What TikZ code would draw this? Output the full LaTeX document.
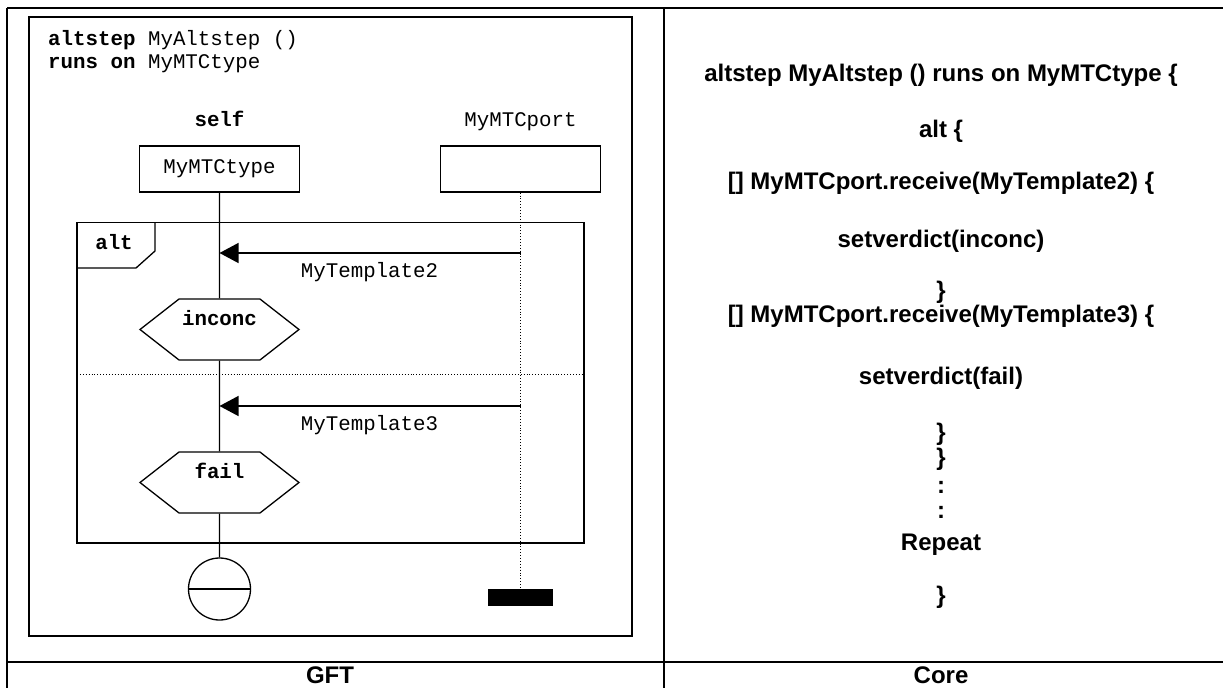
\documentclass[tikz,border=0pt]{standalone}
\usepackage{fontspec}
\setmainfont{Liberation Sans}
\setmonofont{Liberation Mono}
\usetikzlibrary{arrows.meta,shapes.symbols}

\newcommand{\gftfont}{\fontsize{20.8}{24}\selectfont\ttfamily}
\newcommand{\corefont}{\fontsize{24}{28}\selectfont\bfseries}

\begin{document}
\begin{tikzpicture}[x=1pt,y=-1pt,
  gft/.style={font=\gftfont, inner sep=0pt},
  core/.style={font=\corefont, inner sep=0pt, anchor=base},
  instbox/.style={draw, line width=1.3pt, minimum width=160pt, minimum height=46pt, gft},
  verdict/.style={draw, line width=1.3pt, shape=signal, signal to=east and west,
    signal pointer angle=76, minimum width=159pt, minimum height=61pt, inner sep=0pt,
    text height=13pt, text depth=22pt, font=\gftfont\bfseries},
  lifeline/.style={line width=1.3pt},
  portline/.style={line width=0.9pt, dotted},
  msg/.style={line width=1.3pt, -{Triangle[length=19pt,width=20pt]}}]
\useasboundingbox (0,0) rectangle (1223,688);

% Table
\draw[line width=2.2pt] (7,8) -- (1223,8);
\draw[line width=2.2pt] (7,8) -- (7,688);
\draw[line width=2.2pt] (664,8) -- (664,688);
\draw[line width=2.2pt] (7,662) -- (1223,662);

% GFT frame and heading
\draw[line width=1.5pt] (29,17) rectangle (632,636);
\node[gft, anchor=base west] (head1) at (48,45) {\textbf{altstep} MyAltstep ()};
\node[gft, anchor=base west] (head2) at (48,68) {\textbf{runs on} MyMTCtype};

% Instances
\node[gft, anchor=base] (selfname) at (219.5,126) {\textbf{self}};
\node[instbox] (selfbox) at (219.5,169) {MyMTCtype};
\node[gft, anchor=base] (portname) at (520.5,126) {MyMTCport};
\node[instbox] (portbox) at (520.5,169) {};

% Alt frame
\draw[line width=1.3pt] (77,222.5) rectangle (584,543);
\draw[line width=1.3pt] (77,268) -- (136,268) -- (155,251) -- (155,222.5);
\node[gft, font=\gftfont\bfseries, anchor=base] (alttag) at (114,249) {alt};
\draw[line width=0.9pt, dotted] (77,374) -- (584,374);

% Verdicts
\node[verdict] (inconc) at (219.5,329.5) {inconc};
\node[verdict] (fail) at (219.5,482.5) {fail};

% Repeat symbol and port end
\node[draw, circle, line width=1.3pt, minimum size=62pt, inner sep=0pt] (stop) at (219.5,589) {};
\draw[line width=1.3pt] (stop.west) -- (stop.east);
\node[fill, minimum width=65pt, minimum height=17pt, inner sep=0pt] (portend) at (520.5,597.5) {};

% Lifelines
\draw[lifeline] (selfbox) -- (inconc);
\draw[lifeline] (inconc) -- (fail);
\draw[lifeline] (fail) -- (stop);
\draw[portline] (portbox) -- (portend);

% Messages
\coordinate (m1from) at (520.5,253);
\coordinate (m1to) at (219.5,253);
\coordinate (m2from) at (520.5,406);
\coordinate (m2to) at (219.5,406);
\draw[msg] (m1from) -- (m1to);
\draw[msg] (m2from) -- (m2to);
\node[gft, anchor=base] (tpl2) at (369.5,277) {MyTemplate2};
\node[gft, anchor=base] (tpl3) at (369.5,430) {MyTemplate3};

% Core text
\node[core] (c1) at (941,81.5) {altstep MyAltstep () runs on MyMTCtype \{};
\node[core] (c2) at (941,137) {alt \{};
\node[core] (c3) at (941,189) {[] MyMTCport.receive(MyTemplate2) \{};
\node[core] (c4) at (941,247) {setverdict(inconc)};
\node[core] (c5) at (941,298.5) {\}};
\node[core] (c6) at (941,322) {[] MyMTCport.receive(MyTemplate3) \{};
\node[core] (c7) at (941,384) {setverdict(fail)};
\node[core] (c8) at (941,440.5) {\}};
\node[core] (c9) at (941,465.5) {\}};
\node[core] (c10) at (941,493.5) {:};
\node[core] (c11) at (941,518.5) {:};
\node[core] (c12) at (941,550) {Repeat};
\node[core] (c13) at (941,603.5) {\}};

% Column titles
\node[core] (gfttitle) at (330,683) {GFT};
\node[core] (coretitle) at (941,683) {Core};
\end{tikzpicture}
\end{document}
